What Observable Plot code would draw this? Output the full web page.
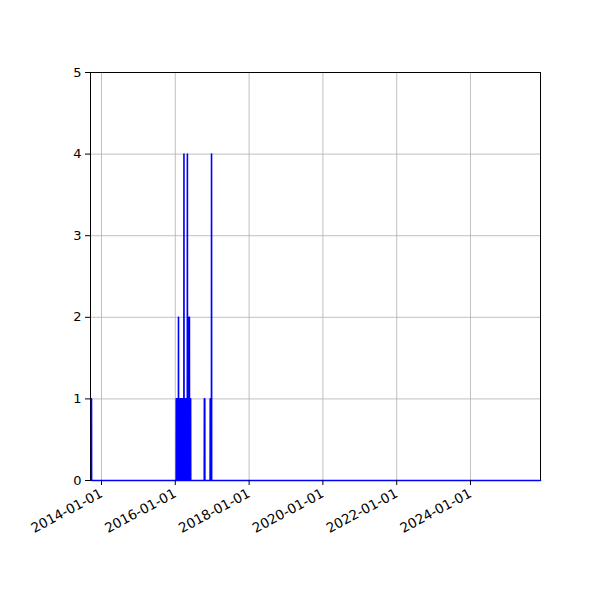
<!DOCTYPE html>
<html>
<head>
<meta charset="utf-8">
<script src="https://cdn.jsdelivr.net/npm/d3@7"></script>
<script src="https://cdn.jsdelivr.net/npm/@observablehq/plot@0.6"></script>
<style>
  html, body { margin: 0; padding: 0; background: #fff; }
  #chart { width: 600px; height: 600px; }
</style>
</head>
<body>
<div id="chart"></div>
<script>
// Series extent (daily counts)
const seriesStart = "2013-09-24";
const seriesEnd = "2025-11-24";
const xDomain = ["2013-09-14", "2025-11-24"];

// Days with a non-zero count
const eventDates = [
  "2013-09-24",
  "2016-01-11", "2016-01-13", "2016-01-15", "2016-01-17", "2016-01-19", "2016-01-21",
  "2016-01-23", "2016-01-25", "2016-01-27", "2016-01-29", "2016-01-31", "2016-02-02",
  "2016-02-04", "2016-02-06", "2016-02-08", "2016-02-10", "2016-02-12", "2016-02-14",
  "2016-02-16", "2016-02-18", "2016-02-20", "2016-02-22", "2016-02-24", "2016-02-26",
  "2016-02-28", "2016-03-01", "2016-03-03", "2016-03-05", "2016-03-07", "2016-03-09",
  "2016-03-11", "2016-03-13", "2016-03-15", "2016-03-17", "2016-03-19", "2016-03-21",
  "2016-03-23", "2016-03-25", "2016-03-27", "2016-03-29", "2016-03-31", "2016-04-02",
  "2016-04-04", "2016-04-06", "2016-04-08", "2016-04-10", "2016-04-12", "2016-04-14",
  "2016-04-16", "2016-04-18", "2016-04-20", "2016-04-22", "2016-04-24", "2016-04-26",
  "2016-04-28", "2016-04-30", "2016-05-02", "2016-05-04", "2016-05-06", "2016-05-08",
  "2016-05-10", "2016-05-12", "2016-05-14", "2016-05-16", "2016-05-18", "2016-05-20",
  "2016-05-22", "2016-05-24", "2016-05-26", "2016-05-28", "2016-05-30", "2016-06-01",
  "2016-10-15", "2016-10-19",
  "2016-12-12", "2016-12-25"
];
const eventCounts = [
  1,
  1, 1, 1, 1, 1, 1,
  1, 1, 1, 1, 1, 2,
  1, 1, 1, 1, 1, 1,
  1, 1, 1, 1, 1, 1,
  1, 1, 1, 1, 1, 1,
  1, 1, 1, 1, 1, 1,
  1, 1, 4, 1, 1, 1,
  1, 1, 1, 1, 1, 1,
  1, 1, 1, 1, 1, 1,
  1, 4, 1, 1, 1, 1,
  1, 2, 1, 1, 1, 2,
  1, 1, 1, 1, 1, 1,
  1, 1,
  1, 4
];

const yTicks = [0, 1, 2, 3, 4, 5];
const xTickLabels = ["2014-01-01", "2016-01-01", "2018-01-01", "2020-01-01", "2022-01-01", "2024-01-01"];

const parse = d3.utcParse("%Y-%m-%d");
const countByDay = new Map(eventDates.map((d, i) => [d, eventCounts[i]]));
const fmt = d3.utcFormat("%Y-%m-%d");
const days = d3.utcDay.range(parse(seriesStart), d3.utcDay.offset(parse(seriesEnd), 1));
const table = days.map(d => ({date: d, count: countByDay.get(fmt(d)) ?? 0}));

const chart = Plot.plot({
  width: 600,
  height: 600,
  marginLeft: 90,
  marginRight: 60,
  marginTop: 72,
  marginBottom: 120,
  style: {fontFamily: "DejaVu Sans", fontSize: "13px", color: "black", background: "white"},
  x: {type: "utc", domain: xDomain.map(parse)},
  y: {domain: [0, 5]},
  marks: [
    Plot.gridX(xTickLabels.map(parse), {stroke: "#b0b0b0", strokeOpacity: 1, strokeWidth: 0.8}),
    Plot.gridY(yTicks, {stroke: "#b0b0b0", strokeOpacity: 1, strokeWidth: 0.8}),
    Plot.frame({stroke: "black", strokeWidth: 1}),
    Plot.lineY(table, {x: "date", y: "count", stroke: "blue", strokeWidth: 1.6}),
    Plot.axisY(yTicks, {tickSize: 5, tickPadding: 4, label: null, tickFormat: d => String(d), fontSize: 13}),
    Plot.axisX(xTickLabels.map(parse), {tickSize: 5, tickPadding: 7, tickRotate: -28, label: null, tickFormat: fmt, fontSize: 13.5})
  ]
});
document.getElementById("chart").appendChild(chart);
</script>
</body>
</html>
